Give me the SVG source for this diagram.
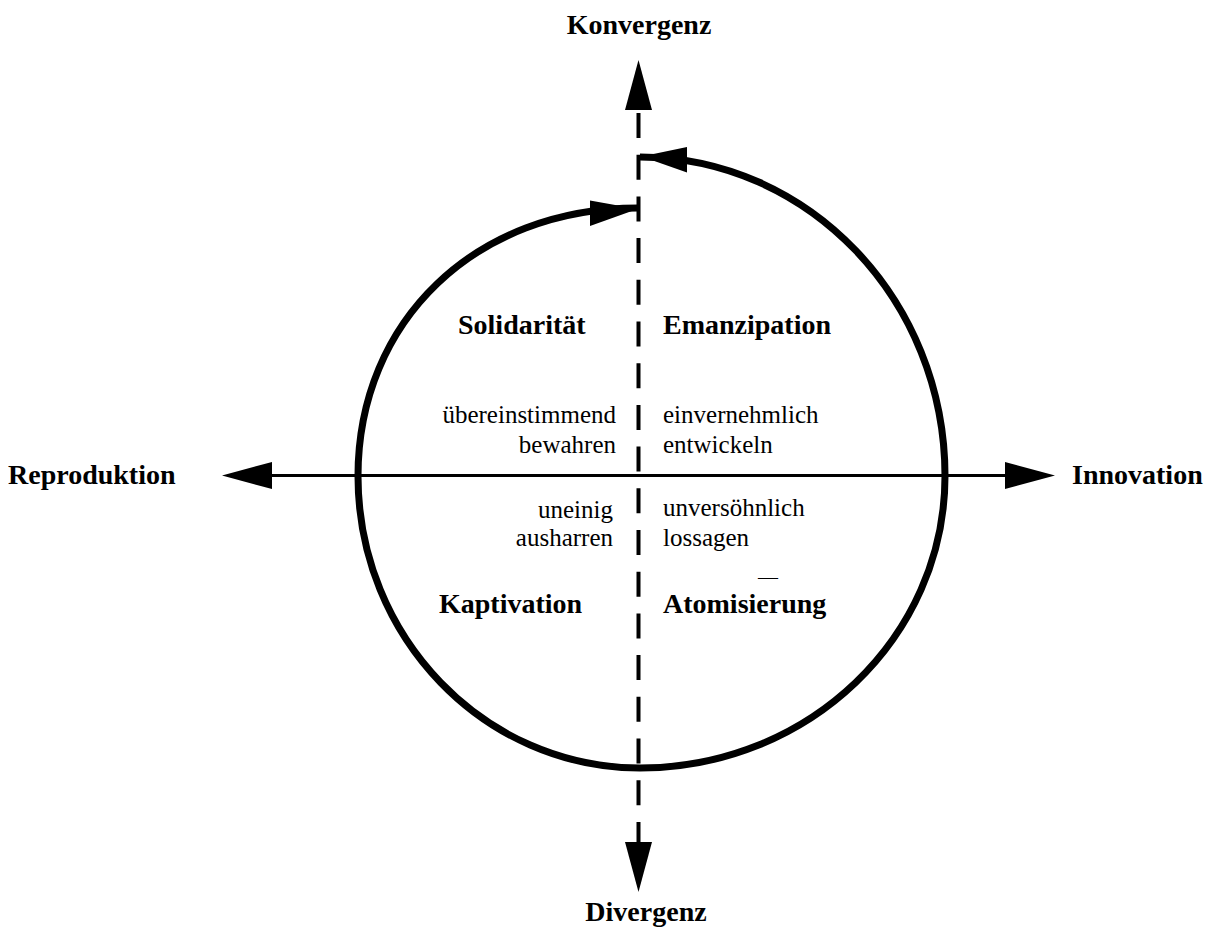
<svg xmlns="http://www.w3.org/2000/svg" width="1213" height="935" viewBox="0 0 1213 935">
  <defs>
    <marker id="axisHead" markerUnits="userSpaceOnUse" markerWidth="50" markerHeight="27" viewBox="0 0 50 27" refX="0" refY="13.5" orient="auto-start-reverse">
      <path d="M0,0 L50,13.5 L0,27 Z" fill="#000"/>
    </marker>
    <style>
      .bold { font-family: "Liberation Serif", "Times New Roman", serif; font-weight: bold; font-size: 28px; fill: #000; }
      .reg { font-family: "Liberation Serif", "Times New Roman", serif; font-size: 25px; fill: #000; }
      .cycle { fill: none; stroke: #000; stroke-width: 7; }
      .head { fill: #000; stroke: none; }
    </style>
  </defs>
  <rect width="1213" height="935" fill="#fff"/>

  <g id="connectors">
    <line id="axis-horizontal" x1="272" y1="475.5" x2="1005" y2="475.5" stroke="#000" stroke-width="3" marker-start="url(#axisHead)" marker-end="url(#axisHead)"/>
    <line id="axis-vertical" x1="638.5" y1="110" x2="638.5" y2="842" stroke="#000" stroke-width="4" stroke-dasharray="25 16.7" stroke-dashoffset="38.7" marker-start="url(#axisHead)" marker-end="url(#axisHead)"/>
    <g id="cycle">
      <path class="cycle" d="M638,208 C475.6,208 358,320.6 358,476 C358,637.3 484.3,768 640,768 C808.5,768 945,637.3 945,476 C945,299.8 808.4,157 640,157"/>
      <polygon class="head" points="637.5,209 590,200.5 590,226"/>
      <polygon class="head" points="641.5,156.5 687,147 687,172.5"/>
    </g>
  </g>

  <g id="node-konvergenz"><text class="bold" x="639" y="34" text-anchor="middle">Konvergenz</text></g>
  <g id="node-divergenz"><text class="bold" x="646" y="921" text-anchor="middle">Divergenz</text></g>
  <g id="node-reproduktion"><text class="bold" x="8" y="484">Reproduktion</text></g>
  <g id="node-innovation"><text class="bold" x="1072" y="484">Innovation</text></g>

  <g id="node-solidaritaet">
    <text class="bold" x="458" y="334">Solidarität</text>
    <text class="reg" x="616" y="423" text-anchor="end">übereinstimmend</text>
    <text class="reg" x="616" y="453" text-anchor="end">bewahren</text>
  </g>
  <g id="node-emanzipation">
    <text class="bold" x="663" y="334">Emanzipation</text>
    <text class="reg" x="663" y="423">einvernehmlich</text>
    <text class="reg" x="663" y="453">entwickeln</text>
  </g>
  <g id="node-kaptivation">
    <text class="reg" x="613" y="518" text-anchor="end">uneinig</text>
    <text class="reg" x="613" y="546" text-anchor="end">ausharren</text>
    <text class="bold" x="439" y="613">Kaptivation</text>
  </g>
  <g id="node-atomisierung">
    <text class="reg" x="663" y="516">unversöhnlich</text>
    <text class="reg" x="663" y="546">lossagen</text>
    <text class="reg" x="758" y="584" style="font-size:20px">—</text>
    <text class="bold" x="663" y="613">Atomisierung</text>
  </g>
</svg>
